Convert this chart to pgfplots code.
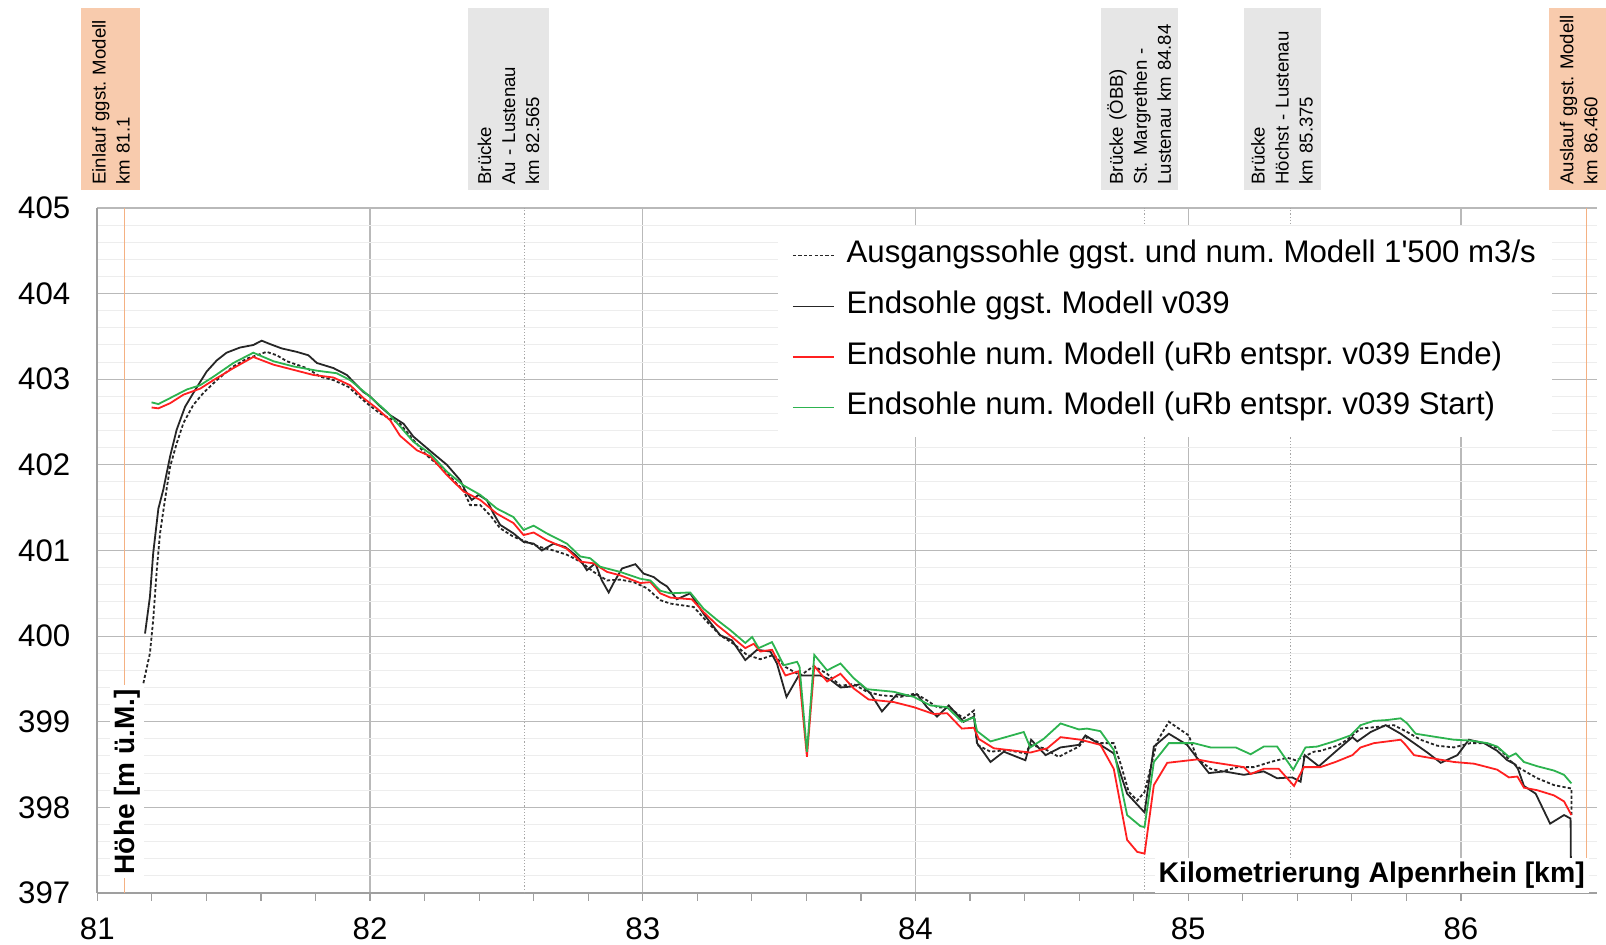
\documentclass[border=0pt]{standalone}
\usepackage{pgfplots}
\pgfplotsset{compat=1.18}
\usepackage{fontspec}
\setmainfont{Liberation Sans}[Ligatures=TeXOff]
\definecolor{peach}{HTML}{F8CBAD}
\definecolor{peachline}{HTML}{F4B183}
\definecolor{boxgrey}{HTML}{E6E6E6}
\definecolor{myred}{HTML}{FF2020}
\definecolor{mygreen}{HTML}{2DB34F}
\definecolor{mydark}{HTML}{262626}
\begin{document}
\frenchspacing
\begin{tikzpicture}[
  abox/.style={rotate=90, anchor=west, text width=86pt, align=left, inner xsep=2.5pt, inner ysep=0pt, font=\fontsize{9.3}{12}\selectfont\frenchspacing}]
\begin{axis}[
  width=750pt, height=342.5pt, scale only axis,
  xmin=81, xmax=86.5, ymin=397, ymax=405,
  xtick={81,82,83,84,85,86}, ytick={397,398,399,400,401,402,403,404,405},
  minor x tick num=4, minor y tick num=4,
  axis x line=bottom, axis y line=left,
  axis line style={-, draw=gray!75, line width=0.8pt},
  tick align=outside,
  major tick length=4pt, minor tick length=4pt,
  x tick style={draw=gray!75, line width=0.6pt},
  minor x tick style={draw=gray!75, line width=0.6pt},
  y tick style={draw=none}, minor y tick style={draw=none},
  xmajorgrids, ymajorgrids, yminorgrids,
  major grid style={draw=gray!55, line width=0.6pt},
  minor grid style={draw=gray!14, line width=0.5pt},
  /pgf/number format/assume math mode=true,
  /pgf/number format/1000 sep={},
  tick label style={font=\fontsize{15.6}{18}\selectfont},
  yticklabel style={xshift=-6pt},
  xticklabel style={yshift=-5pt},
  legend style={at={(0.4538,0.9737)}, anchor=north west, draw=none, fill=white,
    inner xsep=7pt, inner ysep=6pt, font=\fontsize{15.6}{18}\selectfont\frenchspacing,
    row sep=8.4pt, column sep=5pt,
    nodes={inner sep=1pt, text height=11pt, text depth=4pt}},
  legend cell align=left,
  legend image code/.code={\draw[#1, line width=0.6pt] (0pt,0pt) -- (20.5pt,0pt);},
  clip=true,
]
\draw[peachline, line width=0.7pt] (axis cs:81.1,397) -- (axis cs:81.1,405);
\draw[peachline, line width=0.7pt] (axis cs:86.46,397) -- (axis cs:86.46,405);
\draw[gray!70, densely dotted, line width=0.6pt] (axis cs:82.565,397) -- (axis cs:82.565,405);
\draw[gray!70, densely dotted, line width=0.6pt] (axis cs:84.84,397) -- (axis cs:84.84,405);
\draw[gray!70, densely dotted, line width=0.6pt] (axis cs:85.375,397) -- (axis cs:85.375,405);

\addplot[mydark, line width=0.9pt, dash pattern=on 1.6pt off 1.1pt] coordinates {
(81.169,399.45) (81.193,399.80) (81.205,400.19) (81.218,400.77) (81.230,401.20) (81.248,401.59)
(81.267,401.98) (81.291,402.25) (81.316,402.49) (81.352,402.70) (81.389,402.84) (81.438,402.99)
(81.499,403.15) (81.548,403.24) (81.585,403.28) (81.621,403.32) (81.658,403.28) (81.695,403.21)
(81.768,403.13) (81.817,403.03) (81.866,402.99) (81.921,402.91) (81.988,402.72) (82.037,402.60)
(82.086,402.52) (82.110,402.48) (82.159,402.29) (82.208,402.11) (82.257,401.98) (82.294,401.86)
(82.343,401.70) (82.367,401.53) (82.404,401.53) (82.441,401.41) (82.477,401.26) (82.526,401.16)
(82.575,401.10) (82.624,401.04) (82.673,401.00) (82.722,400.95) (82.771,400.87) (82.820,400.75)
(82.869,400.65) (82.917,400.66) (82.967,400.63) (83.015,400.56) (83.064,400.42) (83.101,400.38)
(83.187,400.34) (83.235,400.17) (83.284,400.01) (83.333,399.91) (83.382,399.78) (83.431,399.73)
(83.480,399.78) (83.523,399.64) (83.578,399.54) (83.627,399.65) (83.676,399.56) (83.725,399.42)
(83.773,399.44) (83.822,399.35) (83.871,399.31) (83.945,399.29) (84.000,399.33) (84.042,399.25)
(84.079,399.17) (84.125,399.16) (84.177,399.04) (84.214,399.13) (84.226,398.73) (84.275,398.65)
(84.336,398.67) (84.403,398.63) (84.421,398.73) (84.470,398.69) (84.525,398.59) (84.599,398.71)
(84.629,398.82) (84.678,398.75) (84.727,398.75) (84.752,398.51) (84.782,398.18) (84.813,398.08)
(84.840,398.18) (84.886,398.77) (84.929,399.00) (85.002,398.84) (85.033,398.57) (85.082,398.45)
(85.125,398.42) (85.180,398.47) (85.241,398.47) (85.302,398.53) (85.363,398.58) (85.394,398.55)
(85.424,398.59) (85.461,398.65) (85.485,398.66) (85.547,398.72) (85.583,398.79) (85.632,398.92)
(85.693,398.94) (85.754,398.96) (85.803,398.88) (85.852,398.79) (85.913,398.72) (85.974,398.70)
(86.035,398.75) (86.097,398.75) (86.146,398.67) (86.182,398.54) (86.219,398.45) (86.280,398.34)
(86.341,398.26) (86.405,398.22) (86.405,397.90)
};
\addlegendentry{Ausgangssohle ggst. und num. Modell 1'500 m3/s}

\addplot[mydark, line width=0.9pt] coordinates {
(81.175,400.03) (81.193,400.46) (81.205,400.97) (81.224,401.49) (81.242,401.71) (81.267,402.10)
(81.291,402.41) (81.322,402.68) (81.358,402.87) (81.401,403.09) (81.438,403.22) (81.474,403.31)
(81.523,403.37) (81.572,403.40) (81.603,403.45) (81.634,403.41) (81.676,403.36) (81.731,403.32)
(81.774,403.28) (81.805,403.19) (81.866,403.13) (81.915,403.05) (81.939,402.97) (81.976,402.85)
(82.000,402.80) (82.031,402.70) (82.074,402.58) (82.123,402.48) (82.159,402.33) (82.196,402.23)
(82.233,402.13) (82.282,402.00) (82.331,401.82) (82.349,401.70) (82.373,401.59) (82.398,401.65)
(82.428,401.59) (82.453,401.43) (82.477,401.30) (82.526,401.20) (82.563,401.10) (82.600,401.08)
(82.630,401.00) (82.673,401.08) (82.716,401.04) (82.752,400.95) (82.771,400.89) (82.795,400.77)
(82.826,400.85) (82.850,400.65) (82.875,400.51) (82.893,400.62) (82.924,400.79) (82.973,400.84)
(83.003,400.73) (83.040,400.69) (83.064,400.63) (83.089,400.58) (83.125,400.43) (83.174,400.50)
(83.223,400.26) (83.284,400.01) (83.327,399.95) (83.376,399.72) (83.419,399.84) (83.468,399.82)
(83.492,399.68) (83.527,399.29) (83.572,399.54) (83.651,399.54) (83.688,399.49) (83.725,399.40)
(83.761,399.41) (83.798,399.44) (83.835,399.33) (83.877,399.12) (83.932,399.32) (83.981,399.30)
(84.006,399.32) (84.042,399.17) (84.079,399.06) (84.122,399.19) (84.177,399.00) (84.214,399.06)
(84.226,398.75) (84.275,398.53) (84.324,398.65) (84.403,398.55) (84.424,398.79) (84.477,398.61)
(84.532,398.70) (84.599,398.73) (84.623,398.84) (84.678,398.73) (84.727,398.63) (84.776,398.16)
(84.840,397.94) (84.874,398.71) (84.929,398.86) (84.996,398.73) (85.039,398.55) (85.076,398.40)
(85.131,398.42) (85.204,398.38) (85.277,398.42) (85.326,398.34) (85.381,398.35) (85.412,398.30)
(85.427,398.61) (85.479,398.48) (85.547,398.67) (85.602,398.82) (85.620,398.77) (85.669,398.88)
(85.724,398.96) (85.779,398.86) (85.828,398.75) (85.877,398.64) (85.926,398.52) (85.987,398.61)
(86.029,398.79) (86.085,398.75) (86.133,398.66) (86.170,398.55) (86.195,398.51) (86.209,398.45)
(86.231,398.25) (86.274,398.16) (86.327,397.81) (86.378,397.91) (86.402,397.87) (86.405,396.50)
};
\addlegendentry{Endsohle ggst. Modell v039}

\addplot[myred, line width=0.9pt] coordinates {
(81.199,402.67) (81.224,402.66) (81.267,402.72) (81.316,402.82) (81.377,402.89) (81.426,402.99)
(81.499,403.13) (81.572,403.26) (81.646,403.17) (81.719,403.11) (81.792,403.05) (81.866,403.02)
(81.927,402.93) (81.976,402.78) (82.025,402.66) (82.074,402.52) (82.110,402.34) (82.172,402.17)
(82.221,402.10) (82.282,401.88) (82.343,401.69) (82.404,401.59) (82.465,401.43) (82.526,401.32)
(82.563,401.18) (82.600,401.21) (82.648,401.12) (82.722,401.02) (82.771,400.87) (82.820,400.85)
(82.869,400.75) (82.917,400.71) (82.991,400.62) (83.028,400.63) (83.064,400.50) (83.101,400.45)
(83.180,400.43) (83.223,400.28) (83.272,400.13) (83.327,399.99) (83.376,399.86) (83.407,399.91)
(83.431,399.82) (83.474,399.84) (83.523,399.54) (83.572,399.59) (83.602,398.59) (83.629,399.65)
(83.676,399.47) (83.725,399.56) (83.773,399.39) (83.828,399.26) (83.920,399.23) (83.994,399.17)
(84.067,399.09) (84.116,399.10) (84.170,398.92) (84.214,398.93) (84.232,398.80) (84.287,398.69)
(84.421,398.64) (84.483,398.69) (84.532,398.82) (84.605,398.79) (84.678,398.73) (84.727,398.45)
(84.776,397.62) (84.813,397.48) (84.840,397.46) (84.874,398.26) (84.923,398.52) (85.033,398.56)
(85.082,398.53) (85.204,398.47) (85.229,398.39) (85.277,398.45) (85.332,398.45) (85.388,398.25)
(85.424,398.47) (85.485,398.47) (85.540,398.53) (85.602,398.61) (85.632,398.70) (85.681,398.75)
(85.730,398.77) (85.779,398.79) (85.797,398.73) (85.828,398.61) (85.901,398.57) (85.974,398.53)
(86.048,398.51) (86.097,398.47) (86.133,398.44) (86.176,398.35) (86.207,398.36) (86.231,398.23)
(86.280,398.20) (86.341,398.14) (86.378,398.07) (86.405,397.91)
};
\addlegendentry{Endsohle num. Modell (uRb entspr. v039 Ende)}

\addplot[mygreen, line width=0.9pt] coordinates {
(81.199,402.73) (81.224,402.71) (81.267,402.78) (81.328,402.88) (81.377,402.93) (81.426,403.03)
(81.499,403.19) (81.572,403.31) (81.646,403.21) (81.719,403.15) (81.805,403.10) (81.878,403.07)
(81.927,402.99) (81.976,402.86) (82.013,402.76) (82.062,402.62) (82.110,402.45) (82.159,402.27)
(82.221,402.13) (82.282,401.92) (82.343,401.76) (82.404,401.65) (82.465,401.49) (82.526,401.39)
(82.563,401.24) (82.600,401.29) (82.648,401.20) (82.722,401.08) (82.771,400.93) (82.807,400.91)
(82.844,400.81) (82.917,400.75) (82.991,400.67) (83.028,400.65) (83.064,400.53) (83.101,400.50)
(83.174,400.51) (83.223,400.32) (83.272,400.19) (83.321,400.07) (83.376,399.92) (83.401,399.99)
(83.425,399.86) (83.474,399.93) (83.517,399.66) (83.566,399.70) (83.575,399.64) (83.602,398.65)
(83.629,399.78) (83.676,399.60) (83.725,399.68) (83.773,399.51) (83.822,399.38) (83.920,399.35)
(83.994,399.29) (84.055,399.19) (84.116,399.17) (84.170,399.00) (84.214,399.05) (84.226,398.89)
(84.275,398.77) (84.397,398.88) (84.421,398.70) (84.470,398.80) (84.532,398.98) (84.599,398.91)
(84.629,398.92) (84.678,398.89) (84.727,398.67) (84.776,397.91) (84.825,397.78) (84.840,397.77)
(84.874,398.53) (84.929,398.75) (85.020,398.75) (85.082,398.70) (85.174,398.70) (85.229,398.62)
(85.277,398.71) (85.326,398.71) (85.385,398.44) (85.430,398.70) (85.473,398.71) (85.534,398.77)
(85.595,398.84) (85.632,398.96) (85.681,399.01) (85.730,399.02) (85.779,399.04) (85.803,398.98)
(85.834,398.86) (85.913,398.82) (85.974,398.79) (86.035,398.78) (86.097,398.75) (86.133,398.71)
(86.176,398.59) (86.201,398.63) (86.231,398.53) (86.280,398.48) (86.341,398.43) (86.378,398.38)
(86.405,398.28)
};
\addlegendentry{Endsohle num. Modell (uRb entspr. v039 Start)}

\node[rotate=90, fill=white, inner sep=2pt, font=\fontsize{14}{16}\selectfont\bfseries] at (axis cs:81.11,398.30) {Höhe [m ü.M.]};
\node[anchor=south east, fill=white, inner sep=2pt, font=\fontsize{14.2}{16}\selectfont\bfseries] at (axis cs:86.47,397) {Kilometrierung Alpenrhein [km]};

\coordinate (b1) at (axis cs:81.05,405);
\coordinate (b2) at (axis cs:82.508,405);
\coordinate (b3) at (axis cs:84.82,405);
\coordinate (b4) at (axis cs:85.344,405);
\coordinate (b5) at (axis cs:86.432,405);
\end{axis}
\node[abox, fill=peach, minimum height=29.5pt] at ([yshift=9pt]b1) {Einlauf ggst. Modell\\km 81.1};
\node[abox, fill=boxgrey, minimum height=40.8pt] at ([yshift=9pt]b2) {Brücke\\Au - Lustenau\\km 82.565};
\node[abox, fill=boxgrey, minimum height=38.5pt] at ([yshift=9pt]b3) {Brücke (ÖBB)\\St. Margrethen -\\Lustenau km 84.84};
\node[abox, fill=boxgrey, minimum height=38.5pt] at ([yshift=9pt]b4) {Brücke\\Höchst - Lustenau\\km 85.375};
\node[abox, fill=peach, minimum height=29.5pt] at ([yshift=9pt]b5) {Auslauf ggst. Modell\\km 86.460};
\pgfresetboundingbox
\path[use as bounding box] (-48.65pt,-26pt) rectangle (754.35pt,446.5pt);
\end{tikzpicture}
\end{document}
